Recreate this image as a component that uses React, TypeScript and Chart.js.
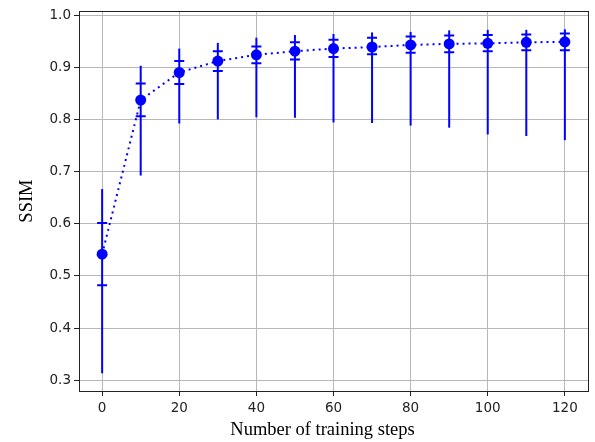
import React, { useEffect, useRef } from "react";
import { Chart, registerables } from "chart.js";

Chart.register(...registerables);

const steps = [0, 10, 20, 30, 40, 50, 60, 70, 80, 90, 100, 110, 120];
const meanSsim = [0.542, 0.838, 0.891, 0.913, 0.925, 0.932, 0.937, 0.940, 0.944, 0.946, 0.947, 0.949, 0.950];
const stdLow = [0.482, 0.807, 0.869, 0.894, 0.909, 0.916, 0.921, 0.926, 0.929, 0.930, 0.932, 0.934, 0.934];
const stdHigh = [0.602, 0.870, 0.913, 0.932, 0.941, 0.949, 0.954, 0.958, 0.960, 0.962, 0.963, 0.964, 0.966];
const minSsim = [0.313, 0.693, 0.793, 0.801, 0.805, 0.804, 0.795, 0.794, 0.789, 0.785, 0.772, 0.769, 0.761];
const maxSsim = [0.667, 0.904, 0.937, 0.948, 0.958, 0.963, 0.965, 0.968, 0.969, 0.972, 0.973, 0.973, 0.974];

const xTicks = [0, 20, 40, 60, 80, 100, 120];
const yTicks = [0.3, 0.4, 0.5, 0.6, 0.7, 0.8, 0.9, 1.0];
const xTitle = "Number of training steps";

const BLUE = "#0000ff";
const TICK_FONT = { family: "'DejaVu Sans', sans-serif", size: 13.5 };
const TITLE_FAMILY = "'Liberation Serif', 'Times New Roman', serif";
const TITLE_FONT = { family: TITLE_FAMILY, size: 18.5 };

const errorBarPlugin = {
  id: "errorBars",
  beforeDatasetsDraw(chart: any) {
    const ctx = chart.ctx;
    const xs = chart.scales.x;
    const ys = chart.scales.y;
    ctx.save();
    ctx.strokeStyle = BLUE;
    ctx.lineWidth = 2;
    ctx.lineCap = "butt";
    for (let i = 0; i < steps.length; i++) {
      const px = xs.getPixelForValue(steps[i]);
      const yMin = ys.getPixelForValue(minSsim[i]);
      const yMax = ys.getPixelForValue(maxSsim[i]);
      ctx.beginPath();
      ctx.moveTo(px, yMin);
      ctx.lineTo(px, yMax);
      ctx.stroke();
      const yLo = ys.getPixelForValue(stdLow[i]);
      const yHi = ys.getPixelForValue(stdHigh[i]);
      ctx.beginPath();
      ctx.moveTo(px - 5, yLo);
      ctx.lineTo(px + 5, yLo);
      ctx.moveTo(px - 5, yHi);
      ctx.lineTo(px + 5, yHi);
      ctx.stroke();
    }
    ctx.restore();
  },
  afterDraw(chart: any) {
    const { left, right, top, bottom } = chart.chartArea;
    const ctx = chart.ctx;
    ctx.save();
    ctx.strokeStyle = "#222";
    ctx.lineWidth = 1;
    ctx.strokeRect(Math.round(left) + 0.5, Math.round(top) + 0.5, Math.round(right - left), Math.round(bottom - top));
    // x-axis title
    ctx.fillStyle = "#000";
    ctx.font = `18.5px ${TITLE_FAMILY}`;
    ctx.textAlign = "center";
    ctx.textBaseline = "alphabetic";
    ctx.fillText(xTitle, (left + right) / 2 - 11, 435);
    ctx.restore();
  },
};

export default function App() {
  const ref = useRef<HTMLCanvasElement | null>(null);
  useEffect(() => {
    document.body.style.margin = "0";
    if (!ref.current) return;
    const chart = new Chart(ref.current, {
      type: "line",
      data: {
        datasets: [
          {
            label: "SSIM",
            data: steps.map((s, i) => ({ x: s, y: meanSsim[i] })),
            borderColor: BLUE,
            backgroundColor: BLUE,
            borderWidth: 2,
            borderDash: [2, 4],
            pointRadius: 5.5,
            pointBackgroundColor: BLUE,
            pointBorderWidth: 0,
            tension: 0,
          },
        ],
      },
      options: {
        animation: false,
        responsive: false,
        devicePixelRatio: 1,
        layout: { padding: { top: 11, right: 7, left: 0, bottom: 0 } },
        plugins: { legend: { display: false }, tooltip: { enabled: false } },
        scales: {
          x: {
            type: "linear",
            min: -6,
            max: 126,
            afterFit: (s: any) => { s.height = 51; },
            afterBuildTicks: (s: any) => { s.ticks = xTicks.map((v) => ({ value: v })); },
            ticks: { font: TICK_FONT, color: "#222", padding: 4, maxRotation: 0, callback: (v: any) => String(v) },
            grid: { color: "#b8b8b8", lineWidth: 1, tickLength: 5, tickColor: "#222" },
            border: { display: true, color: "#222", width: 1 },
            title: { display: false },
          },
          y: {
            type: "linear",
            min: 0.279,
            max: 1.009,
            afterFit: (s: any) => { s.width = 79; },
            afterBuildTicks: (s: any) => { s.ticks = yTicks.map((v) => ({ value: v })); },
            ticks: { font: TICK_FONT, color: "#222", padding: 3, callback: (v: any) => Number(v).toFixed(1) },
            grid: { color: "#b8b8b8", lineWidth: 1, tickLength: 5, tickColor: "#222" },
            border: { display: true, color: "#222", width: 1 },
            title: { display: true, text: "SSIM", font: TITLE_FONT, color: "#000", padding: { top: 16, bottom: 0 } },
          },
        },
      },
      plugins: [errorBarPlugin],
    });
    return () => chart.destroy();
  }, []);
  return (
    <div style={{ width: 595, height: 442 }}>
      <canvas ref={ref} width={595} height={442} style={{ display: "block" }} />
    </div>
  );
}
